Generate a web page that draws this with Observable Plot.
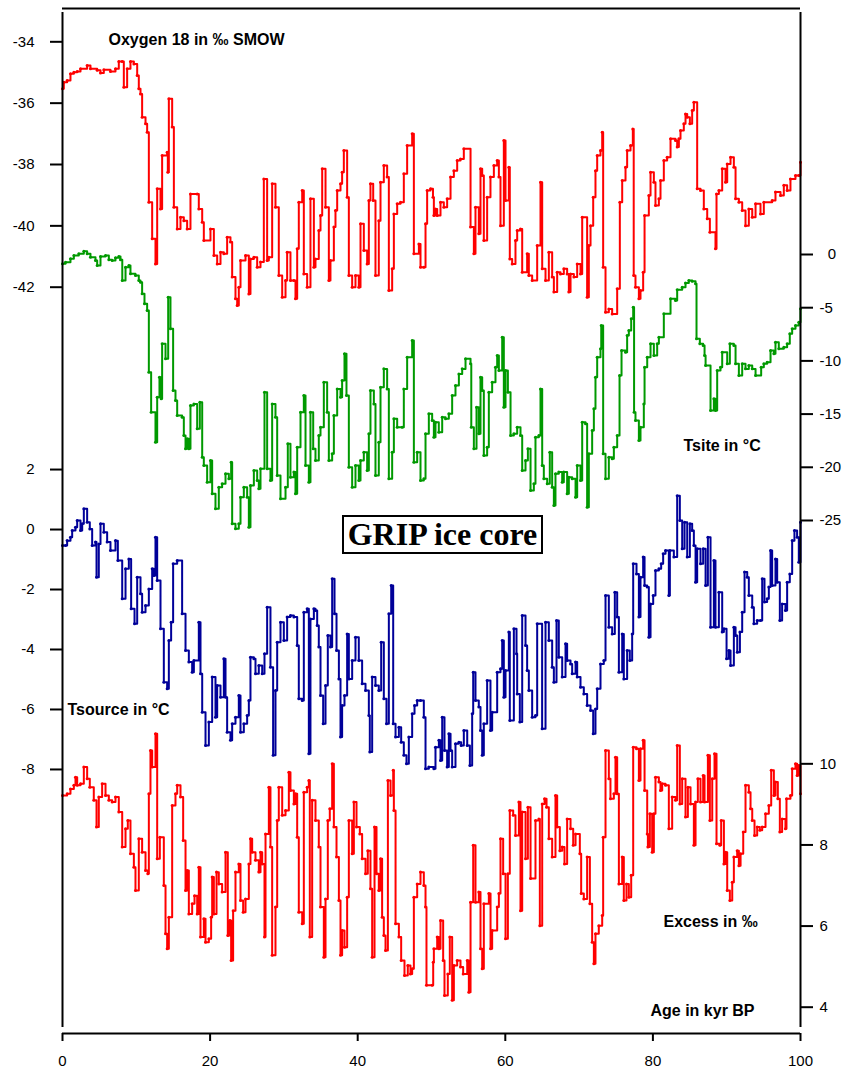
<!DOCTYPE html>
<html><head><meta charset="utf-8">
<script src="https://cdn.jsdelivr.net/npm/d3@7"></script>
<script src="https://cdn.jsdelivr.net/npm/@observablehq/plot@0.6"></script>
<style>
html,body{margin:0;padding:0;background:#fff;overflow:hidden;}
#wrap{position:relative;width:842px;height:1073px;}
#title{position:absolute;left:342px;top:515px;width:197px;height:35px;border:2px solid #000;font:bold 32px "Liberation Serif","Times New Roman",serif;text-align:center;line-height:35px;background:#fff;color:#000;white-space:nowrap;}
</style></head><body><div id="wrap"></div>
<script>
// ---- data: [age kyr BP, value] ----
const ageTicks = [0, 20, 40, 60, 80, 100];
const o18Ticks = [-34, -36, -38, -40, -42];
const tsiteTicks = [0, -5, -10, -15, -20, -25];
const tsourceTicks = [2, 0, -2, -4, -6, -8];
const excessTicks = [10, 8, 6, 4];

const o18Data = [[0,-35.53],[0.18,-35.32],[0.63,-35.26],[1.08,-35.04],[1.54,-34.99],[1.99,-34.97],[2.44,-34.88],[3.34,-34.77],[3.79,-34.88],[4.70,-34.93],[5.15,-35.02],[5.60,-34.91],[6.50,-34.97],[7.18,-34.88],[7.63,-34.64],[8.09,-34.64],[8.31,-35.48],[8.76,-34.88],[9.21,-34.64],[9.67,-34.72],[10.12,-35.10],[10.34,-35.53],[10.57,-35.70],[10.79,-36.46],[11.25,-36.67],[11.47,-36.95],[11.70,-39.23],[12.15,-40.42],[12.60,-41.24],[12.83,-38.79],[13.28,-39.45],[13.50,-37.71],[14.18,-37.60],[14.27,-38.25],[14.41,-35.86],[14.86,-36.78],[15.09,-39.39],[15.54,-40.10],[15.99,-39.72],[16.44,-39.83],[16.89,-40.10],[17.34,-38.96],[18.25,-38.96],[18.47,-39.45],[18.93,-39.88],[19.15,-40.48],[20.05,-40.10],[20.51,-40.97],[20.96,-41.24],[21.41,-40.86],[21.86,-40.91],[22.31,-40.37],[22.76,-40.53],[22.99,-41.67],[23.44,-42.38],[23.67,-42.60],[23.89,-42.00],[24.12,-41.13],[24.80,-40.97],[25.25,-42.22],[25.47,-41.08],[25.93,-41.02],[26.38,-41.35],[26.83,-41.18],[27.28,-38.47],[27.73,-41.13],[27.96,-41.02],[28.41,-38.63],[28.86,-39.39],[29.31,-41.62],[29.77,-42.33],[30.22,-41.78],[30.44,-40.86],[30.89,-41.78],[31.35,-41.78],[31.57,-42.38],[31.80,-40.75],[32.02,-39.23],[32.48,-38.85],[32.70,-41.57],[33.15,-42.00],[33.60,-39.12],[34.06,-41.35],[34.28,-41.08],[34.73,-40.15],[34.96,-39.66],[35.19,-38.14],[35.64,-39.39],[36.09,-41.78],[36.31,-41.13],[36.77,-40.04],[36.99,-39.50],[37.22,-38.85],[37.67,-38.63],[37.89,-38.25],[38.12,-37.54],[38.57,-39.07],[38.80,-41.62],[39.25,-42.00],[39.70,-41.62],[40.15,-42.00],[40.38,-39.93],[40.83,-40.80],[41.28,-41.24],[41.51,-39.17],[41.73,-38.63],[42.10,-39.17],[42.41,-41.62],[42.86,-39.83],[43.09,-38.58],[43.54,-38.03],[43.99,-38.41],[44.22,-42.11],[44.67,-41.40],[44.90,-39.61],[45.35,-39.28],[45.80,-39.23],[46.25,-38.30],[46.70,-37.38],[47.38,-37.00],[47.61,-40.91],[48.29,-40.59],[48.51,-41.35],[48.96,-41.35],[49.19,-39.93],[49.41,-38.85],[49.87,-38.79],[50.20,-39.07],[50.32,-39.66],[50.54,-39.45],[50.77,-39.66],[51.22,-39.23],[51.67,-39.39],[52.12,-39.12],[52.58,-38.41],[53.03,-38.20],[53.48,-37.87],[53.93,-37.82],[54.38,-37.49],[55.29,-40.04],[55.74,-40.91],[55.96,-39.39],[56.41,-40.26],[56.64,-38.14],[56.87,-38.36],[57.09,-40.48],[57.54,-39.07],[57.99,-38.41],[58.45,-38.03],[58.90,-37.87],[59.13,-38.41],[59.35,-40.00],[59.80,-37.22],[60.03,-39.17],[60.48,-38.09],[60.61,-41.08],[60.93,-41.24],[61.38,-40.48],[61.61,-40.15],[62.06,-40.10],[62.29,-41.51],[62.96,-40.91],[63.19,-41.62],[63.64,-41.78],[64.32,-40.64],[64.77,-38.58],[65.00,-41.40],[65.45,-41.78],[65.90,-40.86],[66.35,-41.67],[66.58,-42.16],[67.03,-41.51],[67.48,-41.57],[67.93,-41.40],[68.38,-41.57],[68.61,-42.16],[68.84,-41.57],[69.29,-41.67],[69.74,-41.24],[70.19,-41.57],[70.42,-39.72],[71.09,-42.33],[71.32,-40.64],[71.55,-40.00],[71.91,-39.07],[72.22,-38.20],[72.45,-37.71],[72.90,-37.54],[73.13,-36.95],[73.26,-41.35],[73.58,-42.82],[74.03,-42.71],[74.48,-42.87],[75.16,-42.05],[75.52,-39.23],[75.84,-38.52],[76.29,-38.09],[76.51,-37.54],[76.97,-37.38],[77.28,-36.84],[77.40,-41.62],[77.64,-42.00],[78.10,-42.38],[78.32,-42.11],[78.68,-41.51],[78.87,-39.66],[79.45,-39.01],[79.68,-38.25],[80.13,-38.58],[80.35,-39.34],[80.81,-39.12],[81.03,-38.52],[81.48,-37.87],[81.93,-37.76],[82.39,-37.16],[83.06,-37.22],[83.29,-37.43],[83.52,-37.16],[83.74,-36.89],[84.19,-36.67],[84.42,-36.35],[84.65,-36.46],[85.01,-36.67],[85.32,-36.24],[85.55,-35.97],[86.00,-38.79],[86.45,-38.85],[86.90,-39.45],[87.36,-39.77],[87.72,-40.21],[88.48,-40.75],[88.62,-38.96],[88.94,-38.85],[89.39,-38.14],[89.84,-38.58],[90.07,-37.98],[90.52,-37.76],[90.97,-38.09],[91.20,-39.12],[91.65,-39.23],[92.10,-39.50],[92.55,-40.00],[93.00,-39.45],[93.46,-39.72],[93.91,-39.28],[94.58,-39.61],[95.03,-39.23],[96.16,-39.17],[96.61,-38.90],[97.29,-39.01],[97.74,-38.68],[98.19,-38.85],[98.64,-38.47],[99.32,-38.36],[99.77,-38.36],[100,-37.93]];

const tsiteData = [[0,-0.88],[0.41,-0.72],[1.08,-0.41],[1.54,-0.09],[2.21,0.06],[2.89,0.31],[3.34,0.06],[3.79,-0.25],[4.47,-0.56],[4.70,-1.03],[5.15,-0.19],[5.83,-0.09],[6.28,-0.50],[6.73,-0.56],[7.18,-0.31],[7.63,-0.19],[7.86,-0.50],[8.10,-2.44],[8.54,-1.19],[8.99,-1.03],[9.21,-1.82],[9.89,-1.97],[10.34,-2.44],[10.57,-2.60],[10.79,-3.70],[11.11,-4.64],[11.47,-5.26],[11.70,-11.06],[12.01,-14.82],[12.60,-17.64],[12.83,-13.41],[13.14,-11.53],[13.37,-13.56],[13.50,-8.40],[13.96,-9.81],[14.32,-4.01],[14.63,-6.99],[14.99,-12.78],[15.31,-13.72],[15.54,-15.13],[16.21,-15.29],[16.44,-17.01],[16.67,-18.26],[16.89,-17.32],[17.12,-18.26],[17.34,-14.19],[17.80,-14.04],[18.25,-16.38],[18.61,-13.88],[18.93,-19.05],[19.15,-19.83],[19.60,-21.40],[20.05,-19.36],[20.28,-22.49],[20.73,-23.90],[21.18,-21.87],[21.63,-21.55],[22.09,-20.61],[22.54,-21.08],[22.85,-19.52],[22.99,-25.31],[23.44,-25.78],[23.89,-25.31],[24.12,-22.81],[24.57,-21.87],[25.02,-22.81],[25.25,-25.63],[25.47,-21.71],[25.93,-20.30],[26.38,-21.24],[26.60,-22.02],[26.83,-20.14],[27.37,-12.94],[27.73,-20.14],[28.18,-21.24],[28.41,-14.04],[28.86,-15.29],[29.09,-20.77],[29.54,-22.96],[30.22,-21.87],[30.53,-17.79],[30.89,-20.93],[31.35,-20.45],[31.57,-22.49],[31.80,-18.11],[32.25,-14.82],[32.70,-13.25],[32.93,-19.83],[33.38,-21.40],[33.60,-14.82],[33.97,-18.26],[34.28,-19.36],[34.73,-17.01],[34.96,-16.23],[35.41,-12.00],[35.86,-14.82],[36.09,-19.36],[36.54,-18.73],[36.77,-15.13],[37.22,-12.63],[37.67,-13.41],[37.89,-11.84],[38.21,-9.34],[38.48,-13.25],[38.80,-19.99],[39.25,-21.87],[39.70,-19.83],[40.15,-21.24],[40.38,-19.36],[40.83,-18.58],[41.28,-20.30],[41.51,-16.85],[41.73,-12.78],[42.19,-14.04],[42.41,-20.77],[42.86,-17.64],[43.09,-12.47],[43.54,-10.75],[43.99,-12.63],[44.22,-21.08],[44.67,-18.58],[44.90,-15.44],[45.35,-16.23],[46.03,-16.23],[46.25,-12.63],[46.70,-9.65],[47.38,-8.08],[47.61,-19.52],[48.06,-18.58],[48.51,-21.24],[48.96,-21.08],[49.19,-16.85],[49.64,-14.97],[50.09,-15.60],[50.32,-17.17],[50.54,-15.76],[50.99,-16.70],[51.45,-15.29],[51.90,-15.44],[52.35,-14.97],[52.80,-13.25],[53.25,-12.31],[53.71,-11.22],[54.16,-10.75],[54.61,-9.81],[55.29,-10.28],[55.39,-16.23],[55.74,-18.26],[56.10,-14.35],[56.41,-16.85],[56.64,-11.53],[56.87,-12.78],[57.09,-18.89],[57.54,-18.11],[57.77,-12.94],[58.22,-12.00],[58.67,-10.59],[58.90,-9.49],[59.13,-10.90],[59.58,-7.77],[59.80,-14.35],[60.03,-10.90],[60.35,-12.94],[60.71,-17.01],[61.16,-16.85],[61.61,-16.23],[62.06,-17.01],[62.29,-20.30],[62.74,-19.36],[63.06,-18.26],[63.42,-22.18],[63.87,-21.55],[64.09,-17.17],[64.55,-17.01],[64.77,-12.63],[65.00,-19.83],[65.22,-21.08],[65.68,-21.55],[66.03,-18.58],[66.35,-21.87],[66.58,-23.59],[66.80,-20.61],[67.25,-20.45],[67.71,-21.40],[67.93,-20.45],[68.38,-22.49],[68.61,-20.93],[69.06,-21.08],[69.52,-22.81],[69.74,-19.83],[70.19,-21.24],[70.42,-15.76],[70.87,-15.91],[71.09,-23.75],[71.32,-18.73],[71.77,-16.54],[72.00,-14.50],[72.22,-11.53],[72.45,-9.65],[72.90,-8.86],[73.00,-6.67],[73.26,-18.73],[73.58,-21.08],[74.03,-19.05],[74.48,-19.20],[74.71,-18.11],[75.16,-17.01],[75.48,-11.37],[75.75,-9.02],[76.29,-9.18],[76.51,-7.61],[76.74,-7.14],[77.06,-6.05],[77.33,-4.95],[77.45,-14.82],[77.64,-15.60],[78.10,-17.48],[78.32,-16.23],[78.77,-14.04],[78.87,-10.59],[79.23,-9.65],[79.68,-8.40],[80.13,-9.49],[80.58,-8.40],[80.81,-7.77],[81.48,-5.58],[82.39,-4.17],[83.06,-4.32],[83.29,-3.32],[83.97,-3.07],[84.42,-2.69],[84.87,-2.44],[85.32,-2.51],[85.78,-2.76],[85.91,-7.93],[86.36,-8.40],[86.81,-8.55],[87.00,-9.49],[87.14,-10.43],[87.81,-14.66],[88.26,-13.56],[88.48,-14.66],[88.71,-10.90],[89.16,-10.59],[89.39,-9.18],[90.07,-10.28],[90.43,-8.40],[90.97,-8.55],[91.20,-10.28],[91.65,-11.37],[92.10,-10.28],[92.55,-10.75],[93.00,-10.43],[93.46,-10.75],[93.91,-11.37],[94.67,-10.59],[95.03,-10.28],[95.48,-10.12],[95.94,-9.02],[96.39,-9.34],[96.61,-8.24],[97.06,-8.86],[97.74,-8.71],[98.19,-8.40],[98.55,-7.46],[98.87,-6.99],[99.32,-6.67],[99.77,-6.36],[100,-5.11]];

const tsourceData = [[0,-0.53],[0.41,-0.53],[0.63,-0.37],[1.08,-0.26],[1.31,-0.03],[1.76,0.08],[1.99,0.30],[2.44,-0.03],[2.67,0.19],[2.89,0.69],[3.34,0.24],[3.70,0.02],[4.02,-0.53],[4.47,-0.42],[4.61,-1.59],[4.92,-0.48],[5.15,0.19],[5.60,-0.09],[6.05,-0.42],[6.50,-0.70],[7.18,-0.37],[7.50,-1.03],[8.09,-2.31],[8.54,-1.31],[8.99,-0.98],[9.30,-2.64],[9.76,-3.14],[10.12,-1.59],[10.57,-2.14],[10.79,-2.76],[11.25,-2.53],[11.70,-1.98],[12.15,-1.31],[12.38,-1.53],[12.60,-0.26],[12.83,-1.70],[13.28,-3.31],[13.73,-5.09],[14.18,-5.31],[14.41,-3.70],[14.72,-3.09],[14.99,-1.14],[15.54,-1.03],[16.21,-2.81],[16.67,-4.03],[17.12,-4.42],[17.57,-4.76],[17.80,-4.37],[18.47,-3.09],[18.70,-4.81],[18.93,-6.09],[19.38,-7.20],[19.83,-6.42],[20.28,-4.92],[20.73,-6.26],[20.96,-5.20],[21.41,-5.59],[21.86,-4.31],[22.09,-5.59],[22.31,-6.76],[22.76,-7.03],[22.99,-6.48],[23.44,-6.26],[23.89,-5.53],[24.12,-6.76],[24.57,-6.48],[25.02,-6.20],[25.25,-5.70],[25.47,-4.26],[25.93,-4.31],[26.15,-4.81],[26.60,-4.53],[27.06,-4.81],[27.37,-4.14],[27.73,-2.59],[28.18,-4.59],[28.54,-7.53],[28.86,-5.37],[29.09,-3.76],[29.54,-3.09],[29.99,-3.70],[30.44,-2.92],[30.89,-2.87],[31.35,-2.92],[31.80,-3.87],[32.02,-5.64],[32.48,-5.70],[32.70,-2.76],[33.15,-2.64],[33.38,-7.48],[33.60,-2.98],[34.06,-2.64],[34.28,-2.70],[34.51,-3.20],[34.73,-3.92],[34.96,-5.53],[35.32,-6.48],[35.64,-5.20],[35.95,-3.53],[36.31,-3.92],[36.54,-1.64],[36.86,-2.81],[37.13,-4.03],[37.45,-4.98],[37.67,-6.92],[37.89,-5.87],[38.21,-5.53],[38.57,-3.48],[38.80,-4.98],[39.25,-4.37],[39.70,-3.59],[40.15,-4.37],[40.60,-5.14],[41.06,-5.37],[41.51,-6.20],[41.64,-7.42],[41.96,-4.92],[42.41,-5.20],[42.86,-5.37],[43.18,-3.76],[43.54,-5.64],[43.90,-6.48],[44.22,-2.81],[44.54,-1.87],[44.81,-6.48],[45.13,-6.92],[45.58,-6.59],[45.89,-7.09],[46.25,-7.53],[46.61,-7.81],[46.93,-6.92],[47.38,-6.14],[47.70,-5.87],[48.06,-5.70],[48.51,-5.70],[48.96,-6.26],[49.19,-7.98],[49.64,-7.92],[50.32,-7.98],[50.54,-7.26],[51.00,-7.03],[51.22,-7.70],[51.45,-6.26],[51.76,-7.37],[52.12,-7.92],[52.35,-6.81],[52.58,-7.37],[52.80,-7.92],[53.25,-7.14],[53.71,-7.09],[54.02,-7.20],[54.38,-6.70],[54.84,-7.20],[55.20,-7.87],[55.51,-6.14],[55.65,-4.76],[55.96,-5.70],[56.41,-5.92],[56.64,-6.70],[56.87,-7.53],[57.09,-6.48],[57.54,-5.03],[57.99,-6.70],[58.22,-6.09],[58.90,-4.76],[59.35,-4.64],[59.58,-3.70],[59.80,-5.59],[60.03,-4.70],[60.48,-3.42],[60.61,-6.37],[61.16,-3.31],[61.52,-4.14],[61.61,-5.48],[61.97,-6.42],[62.29,-2.87],[62.74,-3.87],[62.96,-4.70],[63.19,-5.37],[63.64,-6.26],[64.09,-6.20],[64.32,-3.14],[64.99,-6.64],[65.45,-3.09],[65.90,-3.70],[66.35,-4.59],[66.58,-5.09],[66.94,-3.03],[67.25,-4.26],[67.71,-4.92],[68.16,-3.81],[68.38,-4.37],[68.84,-4.48],[69.06,-4.81],[69.52,-4.42],[69.74,-4.92],[70.19,-5.26],[70.64,-5.48],[71.09,-5.87],[71.55,-6.03],[71.91,-6.81],[72.22,-5.98],[72.45,-5.31],[72.90,-4.48],[73.35,-4.37],[73.58,-2.20],[74.03,-3.26],[74.48,-3.48],[74.84,-2.09],[75.16,-2.92],[75.39,-4.76],[75.84,-3.48],[76.06,-4.98],[76.51,-4.03],[76.87,-4.37],[77.19,-3.48],[77.33,-1.14],[77.78,-1.48],[78.10,-2.92],[78.32,-1.59],[78.68,-0.92],[78.87,-1.87],[79.23,-1.92],[79.45,-3.59],[79.68,-2.48],[80.04,-2.20],[80.35,-1.37],[80.81,-1.31],[81.12,-1.14],[81.39,-0.81],[81.71,-0.70],[82.16,-2.20],[82.30,-0.70],[82.84,-0.92],[83.29,1.13],[83.65,0.30],[83.97,-0.64],[84.29,0.24],[84.65,-0.92],[85.01,0.19],[85.32,-0.03],[85.55,-0.53],[85.78,-1.76],[86.00,-0.64],[86.45,-1.14],[86.81,-0.64],[87.14,-1.87],[87.45,-0.26],[87.81,-3.26],[88.26,-1.03],[88.48,-3.26],[88.94,-2.09],[89.39,-3.42],[89.62,-3.31],[89.98,-4.31],[90.29,-4.03],[90.52,-4.53],[90.97,-3.26],[91.20,-3.53],[91.43,-4.09],[91.79,-3.42],[92.10,-2.76],[92.42,-1.42],[92.78,-1.59],[93.00,-2.20],[93.46,-2.59],[93.68,-3.14],[94.13,-3.03],[94.58,-3.03],[94.81,-1.64],[95.12,-2.42],[95.48,-2.31],[95.71,-1.92],[95.94,-0.70],[96.16,-1.87],[96.61,-0.98],[96.84,-1.76],[97.20,-3.03],[97.51,-2.48],[97.96,-2.70],[98.19,-1.76],[98.55,-1.48],[98.87,-0.37],[99.18,-0.03],[99.54,-0.26],[99.77,-1.09],[100,0.24]];

const excessData = [[0,9.22],[0.63,9.26],[1.08,9.38],[1.54,9.47],[1.76,9.67],[1.99,9.47],[2.44,9.51],[2.89,9.92],[3.34,9.63],[3.70,9.42],[4.24,9.10],[4.61,8.44],[4.92,9.18],[5.37,9.51],[5.83,9.22],[6.28,9.10],[6.73,9.06],[7.18,9.18],[7.63,8.81],[8.09,7.95],[8.54,8.40],[8.85,8.60],[9.21,7.78],[9.67,7.45],[9.89,6.88],[10.34,8.15],[10.79,7.82],[11.25,7.37],[11.56,7.29],[11.70,9.26],[11.92,10.33],[12.15,9.92],[12.60,10.74],[12.83,7.66],[13.19,8.19],[13.73,7.00],[13.96,5.81],[14.18,5.44],[14.41,6.22],[14.86,8.97],[15.31,9.26],[15.54,9.47],[15.99,9.18],[16.35,8.11],[16.67,6.88],[16.89,7.37],[17.12,6.30],[17.57,6.55],[17.89,6.75],[18.25,6.30],[18.47,7.45],[18.70,5.73],[19.15,6.18],[19.38,5.60],[19.83,5.69],[20.14,6.22],[20.28,7.21],[20.51,6.30],[20.87,7.33],[21.18,7.04],[21.63,6.84],[22.09,7.82],[22.40,5.77],[22.67,6.14],[22.85,5.15],[23.12,6.38],[23.44,7.33],[23.89,7.53],[24.12,6.63],[24.48,6.34],[24.80,6.67],[25.25,7.53],[25.47,8.15],[25.70,7.82],[26.15,7.62],[26.60,7.33],[26.83,7.82],[27.06,7.53],[27.37,5.73],[27.51,8.27],[27.96,9.42],[28.18,7.95],[28.41,5.28],[28.86,6.47],[29.09,8.60],[29.31,9.42],[29.77,8.73],[30.22,8.85],[30.67,9.79],[30.89,9.34],[31.35,9.01],[31.57,9.26],[31.80,8.19],[32.02,6.34],[32.48,6.06],[32.70,9.30],[33.15,9.42],[33.38,9.59],[33.51,5.73],[33.83,9.10],[34.28,8.60],[34.73,7.95],[34.96,6.47],[35.41,5.23],[35.64,6.67],[35.95,8.60],[36.22,8.89],[36.54,10.00],[36.77,8.44],[37.13,7.70],[37.45,6.63],[37.67,5.28],[37.89,5.89],[38.21,5.48],[38.57,6.71],[38.80,8.60],[39.25,7.78],[39.48,9.06],[39.84,8.44],[40.29,8.27],[40.60,7.66],[41.06,7.29],[41.37,7.86],[41.73,6.92],[41.96,5.23],[42.28,8.44],[42.55,7.29],[42.86,6.88],[43.09,7.66],[43.31,6.22],[43.54,5.77],[43.77,5.40],[44.09,9.59],[44.45,9.22],[44.81,9.84],[44.90,8.85],[45.13,6.06],[45.58,5.73],[45.89,5.15],[46.34,4.78],[46.79,5.03],[47.15,4.82],[47.38,4.95],[47.61,6.71],[48.06,7.04],[48.51,7.33],[48.96,7.00],[49.19,6.47],[49.32,4.54],[50.09,4.54],[50.23,5.11],[50.32,5.44],[50.77,5.73],[51.00,5.44],[51.22,6.14],[51.58,5.15],[51.76,4.29],[52.21,4.82],[52.48,5.73],[52.80,4.17],[53.03,5.03],[53.48,5.15],[53.93,4.99],[54.29,4.82],[54.84,5.15],[55.06,4.37],[55.29,6.59],[55.65,7.99],[55.96,6.59],[56.41,6.84],[56.64,5.44],[56.87,4.95],[57.09,6.55],[57.77,6.80],[58.00,5.44],[58.22,5.89],[58.90,6.47],[59.13,6.80],[59.35,8.15],[59.71,7.29],[60.03,5.69],[60.35,7.29],[60.61,8.85],[61.07,8.73],[61.38,8.23],[61.84,9.06],[62.06,6.38],[62.29,8.81],[62.74,7.66],[63.06,8.93],[63.42,7.17],[64.09,8.60],[64.55,8.64],[64.68,6.01],[65.00,9.01],[65.32,9.14],[65.59,8.93],[65.90,8.15],[66.35,7.70],[66.80,9.22],[67.03,8.44],[67.39,7.86],[67.71,7.95],[68.02,7.53],[68.38,8.64],[68.84,8.40],[69.20,7.99],[69.52,8.27],[70.10,7.78],[70.28,6.80],[70.64,6.67],[71.09,7.70],[71.46,6.55],[71.77,5.60],[72.00,5.07],[72.22,5.81],[72.67,6.01],[73.13,6.26],[73.26,8.19],[73.58,10.33],[74.03,9.63],[74.25,9.14],[74.71,9.26],[74.93,10.16],[75.16,9.26],[75.39,7.04],[75.84,7.70],[76.06,6.63],[76.42,7.04],[76.74,6.71],[77.06,7.25],[77.33,10.41],[77.78,10.37],[78.10,9.59],[78.32,10.37],[78.68,10.58],[78.87,9.34],[79.23,8.27],[79.32,7.95],[79.59,8.77],[79.90,7.82],[80.13,8.77],[80.35,9.67],[80.81,9.55],[81.03,9.34],[81.26,9.51],[81.71,9.47],[82.16,8.40],[82.61,9.18],[83.06,9.10],[83.29,10.45],[83.65,9.01],[83.97,9.63],[84.42,8.69],[84.74,9.42],[85.10,9.01],[85.55,7.99],[85.78,9.06],[86.09,9.63],[86.45,9.06],[86.81,9.71],[87.00,9.06],[87.45,10.21],[87.72,8.60],[88.04,9.63],[88.35,10.25],[88.62,8.03],[89.07,7.99],[89.25,8.60],[89.62,7.53],[89.84,7.82],[90.07,6.88],[90.43,6.63],[90.75,7.08],[90.97,7.70],[91.42,7.86],[91.65,7.49],[91.88,7.78],[92.24,8.32],[92.55,9.47],[93.00,9.30],[93.23,8.89],[93.46,8.60],[93.77,8.23],[94.13,8.44],[94.49,8.36],[94.81,8.44],[95.26,8.77],[95.71,8.97],[96.03,9.84],[96.39,9.22],[96.61,9.55],[96.93,9.14],[97.20,8.32],[97.51,8.64],[97.96,8.40],[98.10,9.14],[98.64,9.22],[98.87,9.88],[99.32,10.00],[99.54,9.71],[99.77,9.96],[100,9.26]];

const labels = {
  o18: "Oxygen 18 in ‰ SMOW",
  tsite: "Tsite in °C",
  tsource: "Tsource in °C",
  excess: "Excess in ‰",
  age: "Age in kyr BP",
  title: "GRIP ice core"
};

// ---- layout: each series is placed in its own band of a shared 0..1 vertical scale ----
const fO18 = d3.scaleLinear([-34, -42], [0.9675, 0.7281]);
const fTsite = d3.scaleLinear([0, -25], [0.7600, 0.5005]);
const fTsource = d3.scaleLinear([2, -8], [0.5502, 0.2576]);
const fExcess = d3.scaleLinear([10, 4], [0.2631, 0.02566]);

const series = [
  {data: o18Data, f: fO18, color: "#ff0000"},
  {data: tsiteData, f: fTsite, color: "#009900"},
  {data: tsourceData, f: fTsource, color: "#000099"},
  {data: excessData, f: fExcess, color: "#ff0000"}
];

const marks = [];
for (const s of series) {
  const rows = s.data.map(([age, v]) => ({age, y: s.f(v)}));
  marks.push(Plot.line(rows, {x: "age", y: "y", curve: "step-after", stroke: s.color, strokeWidth: 2}));
  marks.push(Plot.dot(rows, {x: "age", y: "y", r: 1.5, fill: s.color, stroke: "none"}));
}

const leftPairs = [...o18Ticks.map(v => [fO18(v), String(v)]), ...tsourceTicks.map(v => [fTsource(v), String(v)])];
const rightPairs = [...tsiteTicks.map(v => [fTsite(v), v === 0 ? "\u2007" + v : String(v)]), ...excessTicks.map(v => [fExcess(v), String(v)])];
const leftMap = new Map(leftPairs), rightMap = new Map(rightPairs);

marks.push(
  Plot.ruleY([0, 1], {stroke: "#000", strokeWidth: 2}),
  Plot.ruleX([0, 100], {stroke: "#000", strokeWidth: 2, insetTop: 4, insetBottom: 6}),
  Plot.axisY(leftPairs.map(d => d[0]), {anchor: "left", label: null, tickSize: 12, tickPadding: 16, tickFormat: d => leftMap.get(d), fontSize: 15, strokeWidth: 2, stroke: "#000", fill: "#000"}),
  Plot.axisY(rightPairs.map(d => d[0]), {anchor: "right", label: null, tickSize: 12, tickPadding: 7, tickFormat: d => rightMap.get(d), fontSize: 15, strokeWidth: 2, stroke: "#000", fill: "#000", textAnchor: "start"}),
  Plot.axisX(ageTicks, {anchor: "bottom", label: null, tickSize: 8, tickPadding: 14, tickFormat: d => String(d), fontSize: 15, strokeWidth: 2, stroke: "#000", fill: "#000"}),
  Plot.text([labels.o18], {frameAnchor: "top-left", dx: 46, dy: 25, textAnchor: "start", lineAnchor: "top", fontWeight: "bold", fontSize: 16, fill: "#000"}),
  Plot.text([labels.tsite], {frameAnchor: "top-left", dx: 621, dy: 431, textAnchor: "start", lineAnchor: "top", fontWeight: "bold", fontSize: 16, fill: "#000"}),
  Plot.text([labels.tsource], {frameAnchor: "top-left", dx: 5, dy: 695, textAnchor: "start", lineAnchor: "top", fontWeight: "bold", fontSize: 16, fill: "#000"}),
  Plot.text([labels.excess], {frameAnchor: "top-left", dx: 601, dy: 907, textAnchor: "start", lineAnchor: "top", fontWeight: "bold", fontSize: 16, fill: "#000"}),
  Plot.text([labels.age], {frameAnchor: "top-left", dx: 588, dy: 996, textAnchor: "start", lineAnchor: "top", fontWeight: "bold", fontSize: 16, fill: "#000"})
);

const chart = Plot.plot({
  width: 842,
  height: 1073,
  marginLeft: 62,
  marginRight: 42,
  marginTop: 8,
  marginBottom: 40,
  style: {fontFamily: "'Liberation Sans', Arial, sans-serif", background: "#fff", color: "#000", overflow: "visible"},
  x: {domain: [0, 100], axis: null},
  y: {domain: [0, 1], axis: null},
  marks
});
const wrap = document.getElementById("wrap");
wrap.appendChild(chart);
const t = document.createElement("div");
t.id = "title";
t.textContent = labels.title;
wrap.appendChild(t);
</script></body></html>
